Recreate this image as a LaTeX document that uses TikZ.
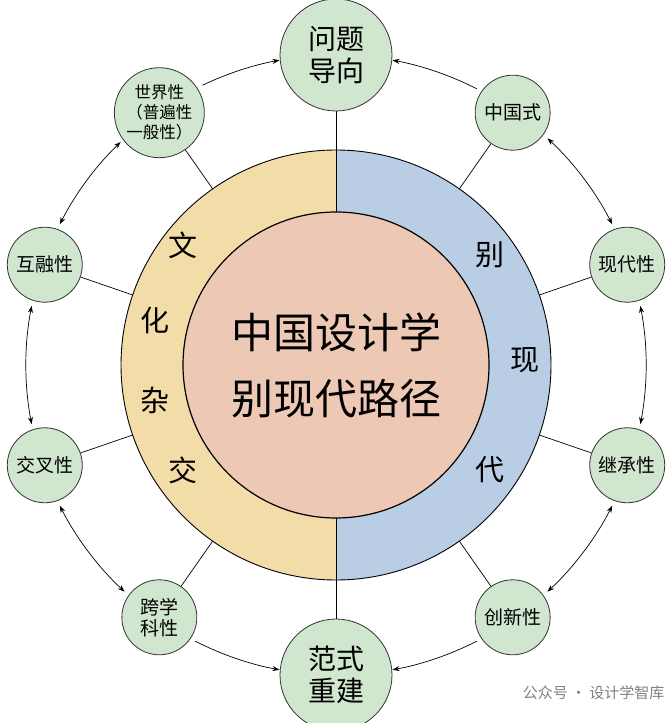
\documentclass[tikz,border=0pt]{standalone}
\usepackage{fontspec}
\setmainfont{Noto Sans CJK SC}
\usetikzlibrary{calc,arrows.meta}
\definecolor{sat}{HTML}{D0E6CE}
\definecolor{tan}{HTML}{F2DCA8}
\definecolor{blu}{HTML}{B9CDE5}
\definecolor{pnk}{HTML}{EDC8B5}
\definecolor{edge}{HTML}{333333}
\tikzset{
 satnode/.style={circle,draw=edge,line width=0.8pt,fill=sat,minimum size=75pt,inner sep=0pt,align=center,font=\fontsize{19}{21}\selectfont},
 bignode/.style={satnode,minimum size=112pt,font=\fontsize{28}{32}\selectfont},
 ringtxt/.style={font=\fontsize{29}{30}\selectfont},
 conn/.style={line width=0.7pt,draw=black},
 arr/.style={line width=0.7pt,-{Stealth[length=7pt,width=5pt]}},
 darr/.style={line width=0.7pt,{Stealth[length=7pt,width=5pt]}-{Stealth[length=7pt,width=5pt]}},
}
\begin{document}
\begin{tikzpicture}[x=1pt,y=1pt]
\useasboundingbox (0,0) rectangle (672,723);
\coordinate (c) at (336,358);
% radial lines
\foreach \a in {125,55,19,-19,-55,-125,-161,161}{\draw[conn] ($(c)+(\a:214)$) -- ($(c)+(\a:300)$);}
% rings
\fill[tan] ($(c)+(90:215)$) arc (90:270:215) -- cycle;
\fill[blu] ($(c)+(-90:215)$) arc (-90:90:215) -- cycle;
\draw[conn,line width=0.9pt] (c) circle (215);
\draw[conn] ($(c)+(0,310)$) -- ($(c)+(0,-310)$);
\draw[conn,fill=pnk,line width=1.2pt] (c) circle (153);
% ring text
\node[ringtxt] (w1) at (183,478) {文};
\node[ringtxt] (w2) at (155,403) {化};
\node[ringtxt] (w3) at (155,323) {杂};
\node[ringtxt] (w4) at (183,253) {交};
\node[ringtxt] (b1) at (490,468) {别};
\node[ringtxt] (b2) at (525,363) {现};
\node[ringtxt] (b3) at (490,253) {代};
\node[align=center,font=\fontsize{42}{66}\selectfont] (ctr) at (336,358) {中国设计学\\别现代路径};
% satellites
\node[bignode] (top) at ($(c)+(90:310)$) {问题\\导向};
\node[bignode] (bot) at ($(c)+(-90:310)$) {范式\\重建};
\node[satnode,minimum size=90pt,font=\fontsize{16.5}{20}\selectfont] (sj) at ($(c)+(125:308)$) {世界性\\（普遍性\\一般性）};
\node[satnode] (zg) at ($(c)+(55:308)$) {中国式};
\node[satnode] (xd) at ($(c)+(19:308)$) {现代性};
\node[satnode] (jc) at ($(c)+(-19:308)$) {继承性};
\node[satnode] (cx) at ($(c)+(-55:308)$) {创新性};
\node[satnode] (kx) at ($(c)+(-125:308)$) {跨学\\科性};
\node[satnode] (jx) at ($(c)+(-161:308)$) {交叉性};
\node[satnode] (hr) at ($(c)+(161:308)$) {互融性};
% arcs
\draw[arr] ($(c)+(115.5:310)$) arc (115.5:100.5:310);
\draw[arr] ($(c)+(63:310)$) arc (63:79.5:310);
\draw[darr] ($(c)+(47:310)$) arc (47:27:310);
\draw[darr] ($(c)+(11:310)$) arc (11:-11:310);
\draw[darr] ($(c)+(-27:310)$) arc (-27:-47:310);
\draw[arr] ($(c)+(-63:310)$) arc (-63:-79.5:310);
\draw[arr] ($(c)+(-117:310)$) arc (-117:-100.5:310);
\draw[darr] ($(c)+(-133:310)$) arc (-133:-153:310);
\draw[darr] ($(c)+(-169:310)$) arc (-169:-191:310);
\draw[darr] ($(c)+(153:310)$) arc (153:134:310);
% watermark
\node[text=gray,font=\fontsize{15}{16}\selectfont,anchor=east] (wm) at (668,30) {公众号 · 设计学智库};
\end{tikzpicture}
\end{document}
